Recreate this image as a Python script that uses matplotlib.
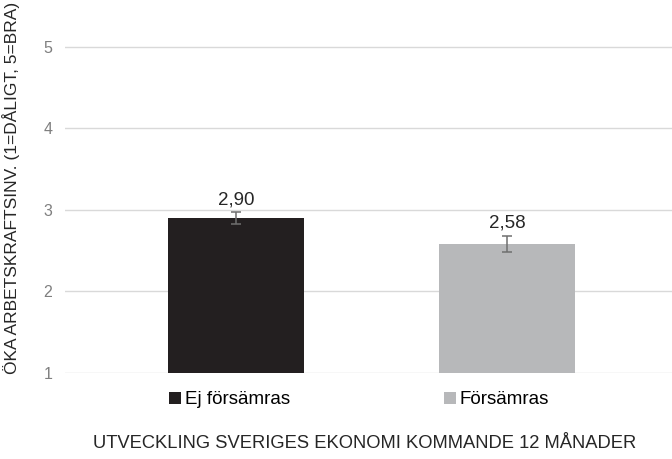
import matplotlib
matplotlib.use("Agg")
import matplotlib.pyplot as plt
from matplotlib.patches import Patch

plt.rcParams['font.family'] = ['Liberation Sans', 'DejaVu Sans']

categories = ["Ej försämras", "Försämras"]
values = [2.90, 2.58]
errors = [0.07, 0.10]
value_labels = ["2,90", "2,58"]
colors = ["#231f20", "#b7b8ba"]
yticks = [1, 2, 3, 4, 5]

fig = plt.figure(figsize=(6.72, 4.59), dpi=100)
W, H = 672, 459
ax = fig.add_axes([65 / W, (H - 373) / H, (672 - 65) / W, (373 - 6) / H])

x = list(range(len(categories)))
ax.bar(x, [v - 1 for v in values], bottom=1, width=0.5, color=colors, zorder=2)
ax.errorbar(x, values, yerr=errors, fmt='none', ecolor='#6f6f6f', elinewidth=1.1,
            capsize=3.5, capthick=1.1, zorder=3)
for xi, v, e, lab in zip(x, values, errors, value_labels):
    ax.text(xi, v + e + 0.05, lab, ha='center', va='bottom', fontsize=13.5, color='#262626')

ax.set_ylim(1, 5.5)
ax.set_xlim(-0.631, 1.609)
ax.set_yticks(yticks)
ax.set_yticklabels([str(t) for t in yticks])
ax.set_xticks([])
ax.yaxis.grid(True, color='#d9d9d9', linewidth=1)
ax.set_axisbelow(True)
for s in ax.spines.values():
    s.set_visible(False)
ax.tick_params(axis='y', length=0, labelsize=11.5, labelcolor='#7f7f7f', pad=9)

fig.text(11 / W, 1 - 188 / H, "ÖKA ARBETSKRAFTSINV. (1=DÅLIGT, 5=BRA)", rotation=90,
         ha='center', va='center', fontsize=12.5, color='#262626')
fig.text(365 / W, 1 - 443 / H, "UTVECKLING SVERIGES EKONOMI KOMMANDE 12 MÅNADER",
         ha='center', va='center', fontsize=13.2, color='#262626')

handles = [Patch(facecolor=c, edgecolor='none') for c in colors]
fig.legend(handles, categories, loc='center left', bbox_to_anchor=(167 / W, 1 - 400 / H),
           ncol=2, frameon=False, fontsize=13.5, handlelength=0.65, handleheight=0.65,
           handletextpad=0.2, columnspacing=8.2, borderaxespad=0, borderpad=0.1)

fig.savefig("out.png", dpi=100)
